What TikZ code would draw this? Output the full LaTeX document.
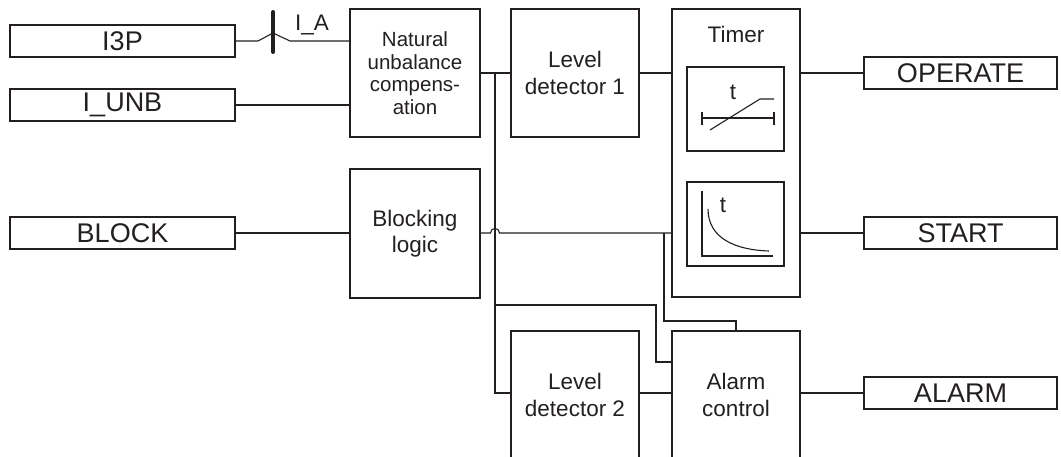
\documentclass[tikz,border=0pt]{standalone}
\usepackage{fontspec}
\setmainfont{Liberation Sans}
\definecolor{lc}{RGB}{35,31,32}
\begin{document}
\begin{tikzpicture}[x=1pt,y=-1pt,
  blockbox/.style={draw=lc, line width=1.5pt, rectangle, inner sep=0pt, align=center, text=lc,
    font=\fontsize{22.5}{26.5}\selectfont},
  iobox/.style={draw=lc, line width=1.2pt, rectangle, inner sep=0pt, minimum width=193pt, minimum height=32pt,
    text=lc, font=\fontsize{27}{30}\selectfont},
  inbox/.style={draw=lc, line width=1.2pt, rectangle, inner sep=0pt, minimum width=225pt, minimum height=32pt,
    text=lc, font=\fontsize{27}{30}\selectfont},
  wire/.style={draw=lc, line width=1.1pt},
  sym/.style={draw=lc, line width=1.1pt},
  lbl/.style={inner sep=0pt, text=lc, font=\fontsize{22.5}{26}\selectfont}]
\useasboundingbox (0,0) rectangle (1061,457);
\clip (0,0) rectangle (1061,457);

% inputs
\node[inbox] (i3p) at (122.5,41) {I3P};
\node[inbox] (iunb) at (122.5,105) {I\_UNB};
\node[inbox] (block) at (122.5,233) {BLOCK};

% blocks
\node[blockbox, minimum width=130pt, minimum height=128pt, font=\fontsize{20.5}{22.5}\selectfont] (nuc) at (415,73)
  {Natural\\unbalance\\compens-\\ation};
\node[blockbox, minimum width=130pt, minimum height=129pt] (blk) at (415,233.5) {Blocking\\logic};
\node[blockbox, minimum width=128pt, minimum height=128pt] (ld1) at (575,73) {Level\\detector 1};
\node[blockbox, minimum width=128pt, minimum height=288pt] (timer) at (736,153) {};
\node[lbl] (timertxt) at (736,34) {Timer};
\node[blockbox, minimum width=97pt, minimum height=84pt] (in1) at (735.5,109) {};
\node[blockbox, minimum width=97pt, minimum height=84pt] (in2) at (735.5,224) {};
\node[blockbox, minimum width=128pt, minimum height=128pt] (ld2) at (575,395) {Level\\detector 2};
\node[blockbox, minimum width=128pt, minimum height=128pt] (alc) at (736,395) {Alarm\\control};

% outputs
\node[iobox] (operate) at (960.5,73) {OPERATE};
\node[iobox] (start) at (960.5,233) {START};
\node[iobox] (alarm) at (960.5,393) {ALARM};

% timer symbols
\node[lbl] (t1) at (733,92) {t};
\draw[sym] (702,118) -- (774,118);
\draw[sym] (702,112) -- (702,125);
\draw[sym] (774,112) -- (774,125);
\draw[sym] (710,130) -- (760,99) -- (774,99);
\node[lbl] (t2) at (723,205) {t};
\draw[sym] (702,191) -- (702,256) -- (773,256);
\draw[sym] (708,209) .. controls (708,238) and (735,250) .. (769,251);

% I3P connection with bus mark
\coordinate (m1) at (258,41);
\coordinate (m2) at (273,33);
\coordinate (m3) at (290,41);
\draw[wire] (i3p.east) -- (m1) -- (m2) -- (m3) -- (nuc.west |- m3);
\draw[draw=lc, line width=4pt, line cap=round] (273,12) -- (273,52);
\node[lbl] (ia) at (312,25) {I\_A};

\draw[wire] (iunb.east) -- (nuc.west |- iunb.east);
\draw[wire] (block.east) -- (blk.west |- block.east);

% main signal
\coordinate (bus) at (495,73);
\draw[wire] (nuc.east) -- (ld1.west);
\draw[wire] (bus) -- (495,393) -- (ld2.west |- 495,393);
\draw[wire] (495,305) -- (656,305) -- (656,362) -- (alc.west |- 656,362);
\draw[wire] (ld1.east) -- (timer.west |- ld1.east);
\draw[wire] (timer.east |- operate.west) -- (operate.west);

% blocking signal with hop
\draw[wire] (blk.east |- 480,233) -- (490.5,233) .. controls (490.5,227) and (499.5,227) .. (499.5,233) -- (timer.west |- 499,233);
\draw[wire] (664,233) -- (664,321) -- (736,321) -- (alc.north);
\draw[wire] (timer.east |- start.west) -- (start.west);

\draw[wire] (ld2.east |- 639,393) -- (alc.west |- 639,393);
\draw[wire] (alc.east |- alarm.west) -- (alarm.west);
\end{tikzpicture}
\end{document}
